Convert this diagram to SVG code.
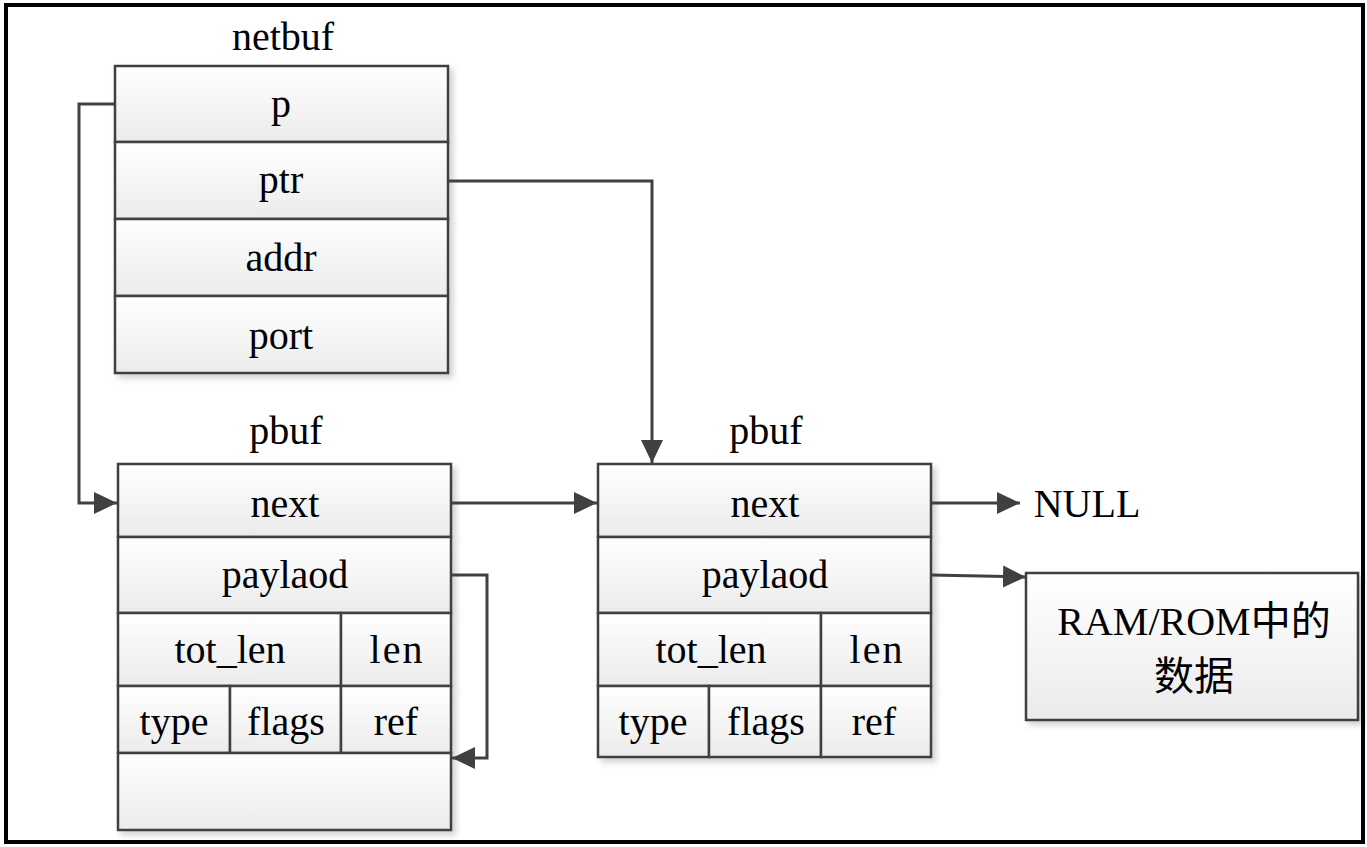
<svg xmlns="http://www.w3.org/2000/svg" width="1367" height="847" viewBox="0 0 1367 847">
<style>
.cell{fill:url(#g);stroke:#404040;stroke-width:2.5}
.t{font-family:"Liberation Serif","Times New Roman","Noto Sans CJK SC",serif;font-size:40px;fill:#000;text-anchor:middle}
.c{fill:none;stroke:#404040;stroke-width:3}
</style>
<defs>
<linearGradient id="g" x1="0" y1="0" x2="0" y2="1">
<stop offset="0" stop-color="#ffffff"/>
<stop offset="1" stop-color="#ebebeb"/>
</linearGradient>
<filter id="sh" x="-5%" y="-5%" width="115%" height="115%">
<feDropShadow dx="4" dy="4" stdDeviation="3" flood-color="#000" flood-opacity="0.18"/>
</filter>
<marker id="a" markerUnits="userSpaceOnUse" markerWidth="24" markerHeight="24" viewBox="0 0 24 24" refX="23" refY="12" orient="auto">
<path d="M0,1 L23,12 L0,23 z" fill="#404040"/>
</marker>
</defs>
<rect x="0" y="0" width="1367" height="847" fill="#fff"/>
<rect x="6" y="5" width="1357" height="837" fill="none" stroke="#000" stroke-width="4"/>

<g id="netbuf">
<text class="t" x="283" y="50">netbuf</text>
<g filter="url(#sh)">
<rect class="cell" x="115" y="66" width="333" height="76"/>
<rect class="cell" x="115" y="142" width="333" height="77"/>
<rect class="cell" x="115" y="219" width="333" height="77"/>
<rect class="cell" x="115" y="296" width="333" height="77"/>
</g>
<text class="t" x="281" y="117">p</text>
<text class="t" x="281" y="193">ptr</text>
<text class="t" x="281" y="271">addr</text>
<text class="t" x="281" y="349">port</text>
</g>

<g id="pbuf1">
<text class="t" x="286" y="444">pbuf</text>
<g filter="url(#sh)">
<rect class="cell" x="118" y="464" width="333" height="73"/>
<rect class="cell" x="118" y="537" width="333" height="76"/>
<rect class="cell" x="118" y="613" width="223" height="73"/>
<rect class="cell" x="341" y="613" width="110" height="73"/>
<rect class="cell" x="118" y="686" width="112" height="67"/>
<rect class="cell" x="230" y="686" width="111" height="67"/>
<rect class="cell" x="341" y="686" width="110" height="67"/>
<rect class="cell" x="118" y="753" width="333" height="77"/>
</g>
<text class="t" x="285" y="517">next</text>
<text class="t" x="285" y="588">paylaod</text>
<text class="t" x="230" y="663">tot_len</text>
<text class="t" x="397" y="663" letter-spacing="2">len</text>
<text class="t" x="174" y="735">type</text>
<text class="t" x="286" y="735">flags</text>
<text class="t" x="396" y="735">ref</text>
</g>

<g id="pbuf2">
<text class="t" x="766" y="444">pbuf</text>
<g filter="url(#sh)">
<rect class="cell" x="598" y="464" width="333" height="73"/>
<rect class="cell" x="598" y="537" width="333" height="76"/>
<rect class="cell" x="598" y="613" width="223" height="73"/>
<rect class="cell" x="821" y="613" width="110" height="73"/>
<rect class="cell" x="598" y="686" width="111" height="71"/>
<rect class="cell" x="709" y="686" width="112" height="71"/>
<rect class="cell" x="821" y="686" width="110" height="71"/>
</g>
<text class="t" x="765" y="517">next</text>
<text class="t" x="765" y="588">paylaod</text>
<text class="t" x="711" y="663">tot_len</text>
<text class="t" x="877" y="663" letter-spacing="2">len</text>
<text class="t" x="653" y="735">type</text>
<text class="t" x="766" y="735">flags</text>
<text class="t" x="874" y="735">ref</text>
</g>

<g id="null">
<text class="t" x="1087" y="517">NULL</text>
</g>

<g id="data">
<rect class="cell" x="1026" y="573" width="332" height="147" filter="url(#sh)"/>
<text class="t" x="1194" y="635">RAM/ROM中的</text>
<text class="t" x="1194" y="690">数据</text>
</g>

<g id="connectors">
<path class="c" d="M115,104 H79 V503 H117" marker-end="url(#a)"/>
<path class="c" d="M448,181 H652 V463" marker-end="url(#a)"/>
<path class="c" d="M451,503 H597" marker-end="url(#a)"/>
<path class="c" d="M931,503 H1020" marker-end="url(#a)"/>
<path class="c" d="M931,575 L1026,577" marker-end="url(#a)"/>
<path class="c" d="M451,575 H487 V758 H452" marker-end="url(#a)"/>
</g>
</svg>
